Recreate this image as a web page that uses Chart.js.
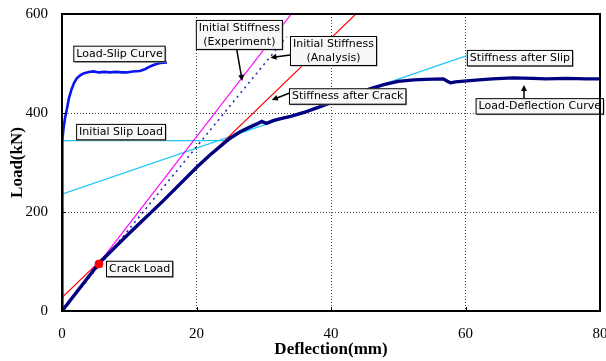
<!DOCTYPE html>
<html>
<head>
<meta charset="utf-8">
<script src="https://cdn.jsdelivr.net/npm/chart.js@4.4.0/dist/chart.umd.min.js"></script>
<style>
  html, body { margin: 0; padding: 0; background: #fff; }
  #wrap { width: 606px; height: 361px; }
</style>
</head>
<body>
<div id="wrap"><canvas id="chart" width="606" height="361"></canvas></div>
<script>
// load-deflection response of the beam (mm, kN)
const deflection = [0, 5.6, 10, 15, 20, 22, 24, 25, 26.5, 28, 29, 29.7, 30.4, 31.5, 33, 34, 36, 38, 40, 42, 44, 46, 48, 50, 52.3, 54, 56.7, 57.3, 57.8, 58.5, 60.2, 62, 64, 67, 70, 72, 75, 78, 80];
const deflLoad   = [0, 98, 157, 222, 290, 315, 338, 349, 362, 372, 378, 383, 379, 385, 390, 393, 401, 411, 421, 431, 440, 450, 458, 464, 467, 468, 469, 464, 461, 463, 465, 467, 469, 471, 470, 469, 470, 469, 469];

// load-slip response (mm, kN)
const slip     = [0, 0.02, 0.05, 0.1, 0.2, 0.45, 0.7, 1.0, 1.4, 1.8, 2.2, 2.7, 3.2, 4, 4.7, 5.5, 6.3, 7.1, 8, 9, 9.6, 10.5, 11.6, 12.4, 13.1, 13.8, 14.6, 15.6];
const slipLoad = [0, 150, 300, 345, 366, 390, 406, 428, 447, 461, 470, 476, 480, 483, 484, 482, 483, 482, 483, 482, 482, 484, 485, 489, 494, 498, 501, 502];

// first cracking
const crackX = [5.5];
const crackY = [95];

// stiffness lines, start and end points
const expStiffX   = [0, 34.1];  const expStiffY   = [0, 600];
const anaStiffX   = [0, 33.4];  const anaStiffY   = [0, 554];
const crackStiffX = [0, 43.7];  const crackStiffY = [27, 600];
const slipStiffX  = [0, 60.2];  const slipStiffY  = [236, 516];
const slipLevelX  = [0, 24.5];  const slipLevelY  = [344, 344];

const xTicks = [0, 20, 40, 60, 80];
const yTicks = [0, 200, 400, 600];

const pts = (xs, ys) => xs.map((x, i) => ({ x: x, y: ys[i] }));

// callout boxes: top-left corner and optional arrow, in axis units
const notes = [
  { text: ['Load-Slip Curve'], at: [1.68, 536] },
  { text: ['Initial Slip Load'], at: [2.1, 378] },
  { text: ['Crack Load'], at: [6.54, 101.5] },
  { text: ['Initial Stiffness', '(Experiment)'], at: [19.9, 588], arrow: [[25.97, 528.8], [26.8, 464.8]] },
  { text: ['Initial Stiffness', '(Analysis)'], at: [33.9, 555.6], arrow: [[33.9, 517.3], [31.0, 511.8]] },
  { text: ['Stiffness after Crack'], at: [33.75, 450], arrow: [[33.75, 440], [31.2, 426.4]] },
  { text: ['Stiffness after Slip'], at: [60.2, 527.4] },
  { text: ['Load-Deflection Curve'], at: [61.5, 430], arrow: [[68.7, 430], [68.7, 456.7]] }
];

function drawArrow(ctx, x1, y1, x2, y2) {
  const a = Math.atan2(y2 - y1, x2 - x1);
  const len = 6, half = 3;
  ctx.strokeStyle = '#000';
  ctx.fillStyle = '#000';
  ctx.lineWidth = 1.5;
  ctx.beginPath();
  ctx.moveTo(x1, y1);
  ctx.lineTo(x2 - Math.cos(a) * len * 0.8, y2 - Math.sin(a) * len * 0.8);
  ctx.stroke();
  ctx.beginPath();
  ctx.moveTo(x2, y2);
  ctx.lineTo(x2 - len * Math.cos(a) + half * Math.sin(a), y2 - len * Math.sin(a) - half * Math.cos(a));
  ctx.lineTo(x2 - len * Math.cos(a) - half * Math.sin(a), y2 - len * Math.sin(a) + half * Math.cos(a));
  ctx.closePath();
  ctx.fill();
}

const framePlugin = {
  id: 'frame',
  afterDatasetsDraw(chart) {
    const ctx = chart.ctx;
    const { left, right, top, bottom } = chart.chartArea;
    const sx = chart.scales.x, sy = chart.scales.y;
    ctx.save();

    // callouts
    ctx.font = '11px "DejaVu Sans"';
    ctx.textBaseline = 'middle';
    ctx.textAlign = 'center';
    notes.forEach(n => {
      const bx = sx.getPixelForValue(n.at[0]);
      const by = sy.getPixelForValue(n.at[1]);
      const w = Math.max(...n.text.map(t => ctx.measureText(t).width)) + 5;
      const lh = 13.5;
      const h = n.text.length * lh + 2;
      ctx.fillStyle = '#999';
      ctx.fillRect(bx + 1.5, by + 1.5, w, h);
      ctx.fillStyle = 'rgba(255,255,255,0.92)';
      ctx.fillRect(bx, by, w, h);
      ctx.strokeStyle = '#000';
      ctx.lineWidth = 1;
      ctx.strokeRect(bx + 0.5, by + 0.5, w, h);
      ctx.fillStyle = '#000';
      n.text.forEach((t, i) => ctx.fillText(t, bx + w / 2 + 0.5, by + 1.5 + lh * (i + 0.5)));
      if (n.arrow) {
        drawArrow(ctx,
          sx.getPixelForValue(n.arrow[0][0]), sy.getPixelForValue(n.arrow[0][1]),
          sx.getPixelForValue(n.arrow[1][0]), sy.getPixelForValue(n.arrow[1][1]));
      }
    });

    // inner tick marks
    ctx.strokeStyle = '#000';
    ctx.lineWidth = 1;
    ctx.beginPath();
    xTicks.forEach(v => {
      const px = Math.round(sx.getPixelForValue(v)) + 0.5;
      ctx.moveTo(px, bottom); ctx.lineTo(px, bottom - 4);
    });
    yTicks.forEach(v => {
      const py = Math.round(sy.getPixelForValue(v)) + 0.5;
      ctx.moveTo(left, py); ctx.lineTo(left + 4, py);
    });
    ctx.stroke();

    // plot frame
    ctx.lineWidth = 2;
    ctx.strokeRect(left, top, right - left, bottom - top);
    ctx.restore();
  }
};

const gridColor = (ctx) => {
  const v = ctx.tick && ctx.tick.value;
  return (v === ctx.scale.min || v === ctx.scale.max) ? 'rgba(0,0,0,0)' : '#444';
};

new Chart(document.getElementById('chart'), {
  type: 'scatter',
  data: {
    datasets: [
      {
        label: 'Crack Load',
        data: pts(crackX, crackY),
        pointRadius: 4,
        pointBackgroundColor: '#ff0000',
        pointBorderColor: '#ff0000',
        showLine: false
      },
      {
        label: 'Load-Deflection Curve',
        data: pts(deflection, deflLoad),
        borderColor: '#000080',
        borderWidth: 3.4,
        pointRadius: 0,
        showLine: true
      },
      {
        label: 'Load-Slip Curve',
        data: pts(slip, slipLoad),
        borderColor: '#0a14f0',
        borderWidth: 2.6,
        pointRadius: 0,
        showLine: true
      },
      {
        label: 'Initial Stiffness (Experiment)',
        data: pts(expStiffX, expStiffY),
        borderColor: '#ff00ff',
        borderWidth: 1.2,
        pointRadius: 0,
        showLine: true
      },
      {
        label: 'Initial Stiffness (Analysis)',
        data: pts(anaStiffX, anaStiffY),
        borderColor: '#2a2aa8',
        borderWidth: 1.6,
        borderDash: [2, 4],
        pointRadius: 0,
        showLine: true
      },
      {
        label: 'Stiffness after Crack',
        data: pts(crackStiffX, crackStiffY),
        borderColor: '#ff0000',
        borderWidth: 1.1,
        pointRadius: 0,
        showLine: true
      },
      {
        label: 'Stiffness after Slip',
        data: pts(slipStiffX, slipStiffY),
        borderColor: '#20c8f8',
        borderWidth: 1.3,
        pointRadius: 0,
        showLine: true
      },
      {
        label: 'Initial Slip Load',
        data: pts(slipLevelX, slipLevelY),
        borderColor: '#20c8f8',
        borderWidth: 1.3,
        pointRadius: 0,
        showLine: true
      }
    ]
  },
  options: {
    responsive: false,
    animation: false,
    layout: { padding: { top: 14, right: 6, left: 0, bottom: 0 } },
    plugins: {
      legend: { display: false },
      tooltip: { enabled: false }
    },
    scales: {
      x: {
        type: 'linear',
        min: 0,
        max: 80,
        afterBuildTicks: (s) => { s.ticks = xTicks.map(v => ({ value: v })); },
        afterFit: (s) => { s.height = 50; s.paddingLeft = 0; s.paddingRight = 0; },
        border: { display: false, dash: [1, 2] },
        grid: { color: gridColor, drawTicks: false, lineWidth: 1 },
        ticks: {
          padding: 14,
          color: '#000',
          font: { family: '"Liberation Serif"', size: 15 }
        },
        title: {
          display: true,
          text: 'Deflection(mm)',
          color: '#000',
          padding: { top: 0, bottom: 1 },
          font: { family: '"Liberation Serif"', size: 17, weight: 'bold' }
        }
      },
      y: {
        type: 'linear',
        min: 0,
        max: 600,
        afterBuildTicks: (s) => { s.ticks = yTicks.map(v => ({ value: v })); },
        afterFit: (s) => { s.width = 62; s.paddingTop = 0; s.paddingBottom = 0; },
        border: { display: false, dash: [1, 2] },
        grid: { color: gridColor, drawTicks: false, lineWidth: 1 },
        ticks: {
          padding: 14,
          color: '#000',
          font: { family: '"Liberation Serif"', size: 15 }
        },
        title: {
          display: true,
          text: 'Load(kN)',
          color: '#000',
          padding: { top: 7, bottom: 0 },
          font: { family: '"Liberation Serif"', size: 17, weight: 'bold' }
        }
      }
    }
  },
  plugins: [framePlugin]
});
</script>
</body>
</html>
